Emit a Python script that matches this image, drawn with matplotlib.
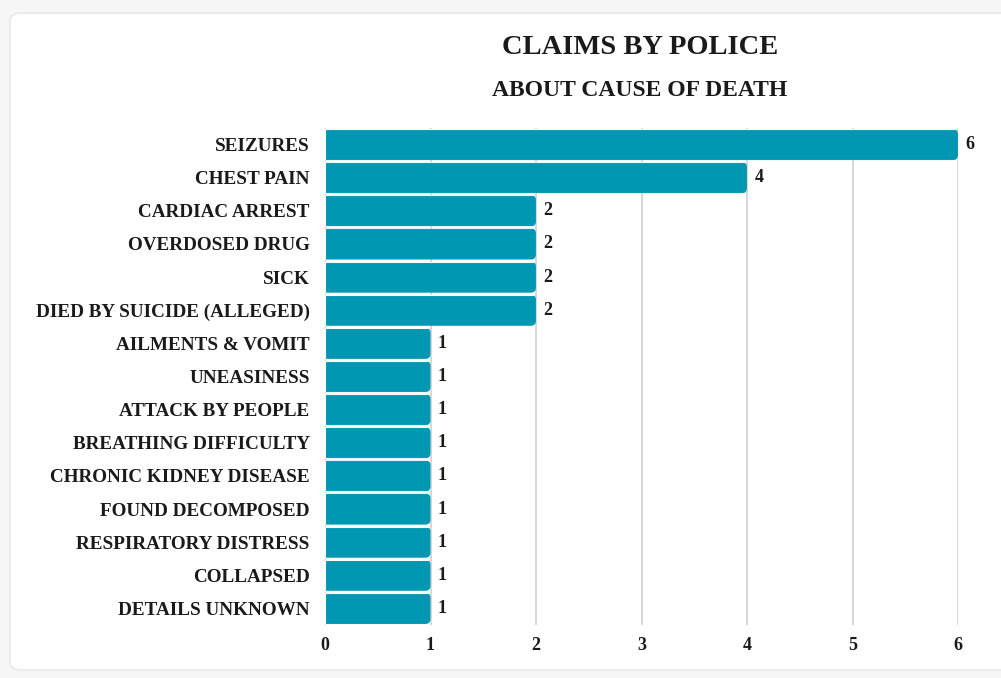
import matplotlib.pyplot as plt
from matplotlib.patches import FancyBboxPatch

# data
causes = ["Seizures", "Chest pain", "Cardiac arrest", "Overdosed drug", "Sick",
          "Died by suicide (alleged)", "Ailments & Vomit", "Uneasiness",
          "Attack by people", "Breathing difficulty", "Chronic kidney disease",
          "Found decomposed", "Respiratory distress", "Collapsed", "Details unknown"]
counts = [6, 4, 2, 2, 2, 2, 1, 1, 1, 1, 1, 1, 1, 1, 1]
xticks = [0, 1, 2, 3, 4, 5, 6]

bar_color = "#0097b2"
text_color = "#1a1a1a"
font = ["Liberation Serif", "DejaVu Serif"]

fig = plt.figure(figsize=(10.01, 6.78), dpi=100)
fig.patch.set_facecolor("#f6f6f6")

# white card behind the chart
card = FancyBboxPatch((10 / 1001, 8 / 678), 1.05, 665 / 678 - 8 / 678,
                      boxstyle="round,pad=0,rounding_size=0.012",
                      transform=fig.transFigure, facecolor="white",
                      edgecolor="#e6e6e6", linewidth=1, zorder=-5)
fig.patches.append(card)

ax = fig.add_axes([325 / 1001, 1 - 625 / 678, (958 - 325) / 1001, (625 - 128) / 678])
ax.set_facecolor("none")

y = list(range(len(causes)))
bars = ax.barh(y, counts, height=0.94, color=bar_color, edgecolor="white", linewidth=0.8, zorder=3)

# round the right-hand corners: clip each bar with a rounded box
aspect = 105.5 / 33.1
for b in bars:
    x0, y0 = b.get_x(), b.get_y()
    w, h = b.get_width(), b.get_height()
    clip = FancyBboxPatch((x0 - 0.3, y0), w + 0.3, h,
                          boxstyle="round,pad=0,rounding_size=0.05",
                          mutation_aspect=aspect, transform=ax.transData,
                          facecolor="none", edgecolor="none")
    b.set_clip_path(clip)

for yi, c in zip(y, counts):
    ax.text(c + 0.07, yi, str(c), va="center", ha="left", fontsize=13,
            fontweight="bold", color=text_color, family=font)

ax.set_xlim(0, 6)
ax.set_ylim(len(causes) - 0.5, -0.5)
ax.set_xticks(xticks)
ax.set_xticklabels([str(t) for t in xticks], fontsize=13, fontweight="bold",
                   color=text_color, family=font)
ax.set_yticks(y)
ax.set_yticklabels([c.upper() for c in causes], fontsize=13.8, fontweight="bold",
                   color=text_color, family=font)
ax.tick_params(axis="both", length=0)
ax.tick_params(axis="y", pad=11)
ax.tick_params(axis="x", pad=9)
ax.grid(axis="x", color="#d0d0d0", linewidth=1.2, zorder=0)
for s in ax.spines.values():
    s.set_visible(False)

fig.text(640 / 1001, 1 - 48 / 678, "CLAIMS BY POLICE", ha="center", va="center",
         fontsize=20.5, fontweight="bold", color=text_color, family=font)
fig.text(640 / 1001, 1 - 90 / 678, "ABOUT CAUSE OF DEATH", ha="center", va="center",
         fontsize=17, fontweight="bold", color=text_color, family=font)

fig.savefig("out.png", dpi=100, facecolor=fig.get_facecolor())
